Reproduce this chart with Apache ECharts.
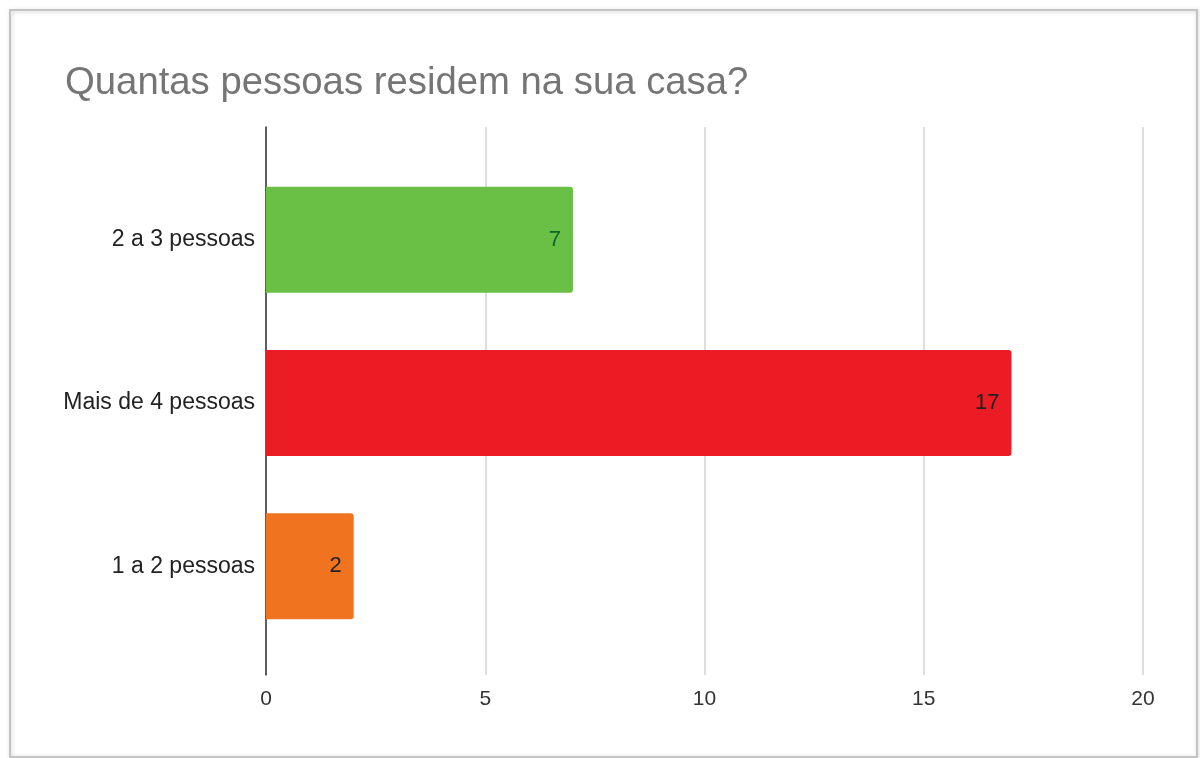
<!DOCTYPE html>
<html>
<head>
<meta charset="utf-8">
<script src="https://cdn.jsdelivr.net/npm/echarts@6/dist/echarts.min.js"></script>
<style>
  html, body { margin: 0; padding: 0; background: #ffffff; }
  #chart { width: 1200px; height: 758px; }
</style>
</head>
<body>
<div id="chart"></div>
<script>
// Survey answers, listed bottom to top as the category axis draws them
const categories = ['1 a 2 pessoas', 'Mais de 4 pessoas', '2 a 3 pessoas'];
const counts = [2, 17, 7];
const barColors = ['#f07320', '#ec1c24', '#6abf45'];
const labelColors = ['#222222', '#222222', '#0d652d'];
const axisMin = 0;
const axisMax = 20;
const axisStep = 5;

const chart = echarts.init(document.getElementById('chart'), null, { renderer: 'canvas' });

const font = 'Liberation Sans, Arial, sans-serif';

chart.setOption({
  backgroundColor: '#ffffff',
  animation: false,
  title: {
    text: 'Quantas pessoas residem na sua casa?',
    left: 60,
    top: 59,
    textStyle: { fontFamily: font, fontSize: 38.3, fontWeight: 'normal', color: '#757575' }
  },
  graphic: [{
    type: 'rect',
    shape: { x: 10, y: 10, width: 1187, height: 747 },
    style: {
      fill: 'transparent',
      stroke: '#c4c4c4',
      lineWidth: 2,
      shadowBlur: 4,
      shadowColor: 'rgba(0,0,0,0.2)',
      shadowOffsetX: 1,
      shadowOffsetY: 1
    },
    z: 100,
    silent: true
  }],
  grid: [
    // full-height frame carrying the gridlines, zero line and tick labels
    { left: 266, right: 57, top: 127, bottom: 83 },
    // inner band holding the bars and category labels
    { left: 266, right: 57, top: 158, height: 490 }
  ],
  xAxis: [
    {
      gridIndex: 0,
      type: 'value',
      min: axisMin,
      max: axisMax,
      interval: axisStep,
      axisLine: { show: false },
      axisTick: { show: false },
      splitLine: { show: true, lineStyle: { color: '#d3d3d3', width: 1.5 } },
      axisLabel: { fontFamily: font, fontSize: 21, color: '#333333', margin: 14 }
    },
    {
      gridIndex: 1,
      type: 'value',
      min: axisMin,
      max: axisMax,
      show: false
    }
  ],
  yAxis: [
    {
      gridIndex: 0,
      type: 'value',
      min: 0,
      max: 1,
      axisLine: { show: true, lineStyle: { color: '#333333', width: 1.5 } },
      axisTick: { show: false },
      axisLabel: { show: false },
      splitLine: { show: false }
    },
    {
      gridIndex: 1,
      type: 'category',
      data: categories,
      axisLine: { show: false },
      axisTick: { show: false },
      axisLabel: { fontFamily: font, fontSize: 23, color: '#222222', margin: 11 }
    }
  ],
  series: [{
    type: 'bar',
    xAxisIndex: 1,
    yAxisIndex: 1,
    barWidth: 106,
    z: 1,
    data: counts.map((v, i) => ({
      value: v,
      itemStyle: { color: barColors[i], borderRadius: [0, 3, 3, 0] },
      label: { color: labelColors[i] }
    })),
    label: {
      show: true,
      position: 'insideRight',
      distance: 12,
      fontFamily: font,
      fontSize: 22
    }
  }]
});
</script>
</body>
</html>
